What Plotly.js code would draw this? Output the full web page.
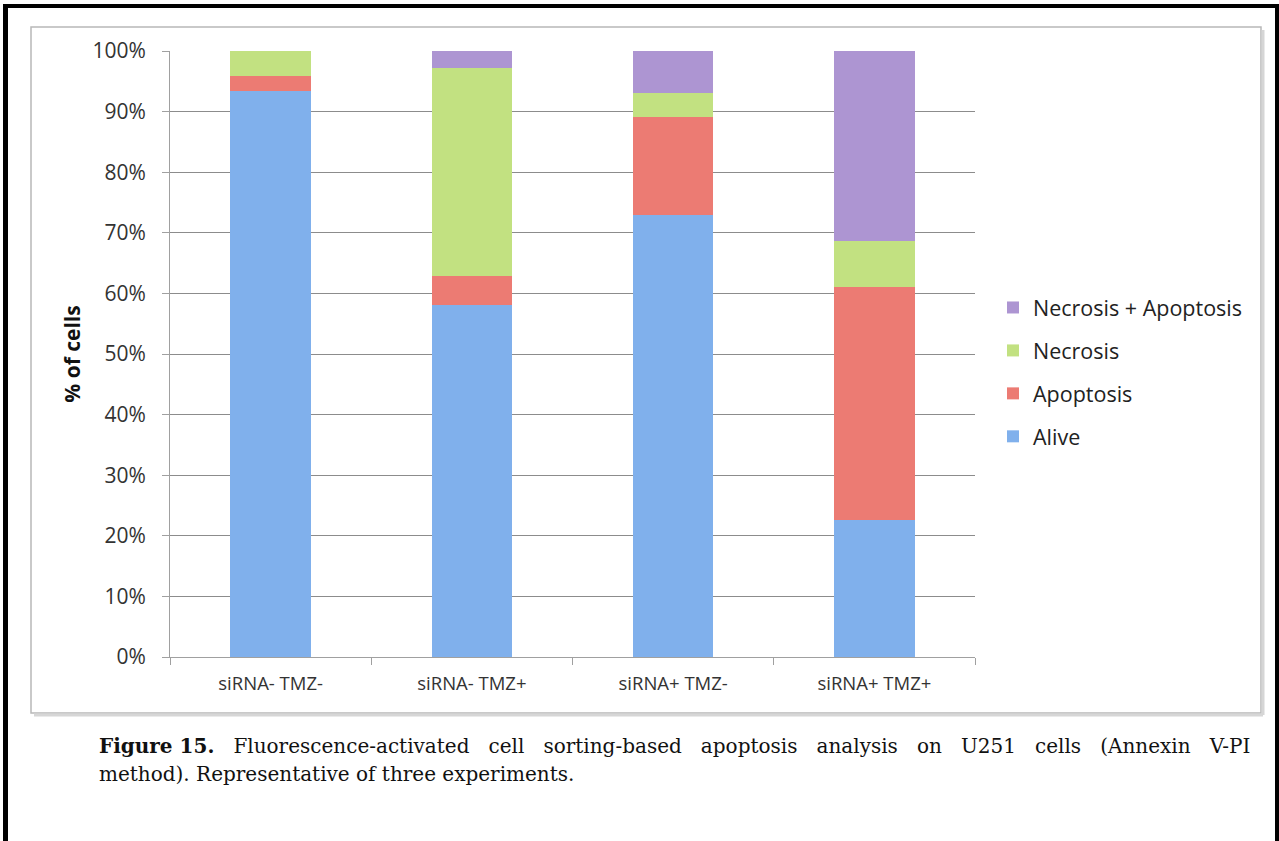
<!DOCTYPE html>
<html>
<head>
<meta charset="utf-8">
<script src="https://cdn.plot.ly/plotly-3.0.1.min.js"></script>
<style>html,body{margin:0;padding:0;background:#fff;}#chart{width:1279px;height:841px;}</style>
</head>
<body>
<div id="chart"></div>
<script>
// ---- data (percent of cells) ----
const categories = ["siRNA- TMZ-", "siRNA- TMZ+", "siRNA+ TMZ-", "siRNA+ TMZ+"];
const alive = [93.4, 58.1, 73.0, 22.6];
const apoptosis = [2.4, 4.8, 16.1, 38.5];
const necrosis = [4.2, 34.3, 3.9, 7.5];
const necrosisApoptosis = [0.0, 2.8, 7.0, 31.4];
const seriesNames = ["Alive", "Apoptosis", "Necrosis", "Necrosis + Apoptosis"];
const yTickVals = [0, 10, 20, 30, 40, 50, 60, 70, 80, 90, 100];
const yTickText = ["0%", "10%", "20%", "30%", "40%", "50%", "60%", "70%", "80%", "90%", "100%"];
const captionBold = "Figure 15.";
const captionWords1 = ["Fluorescence-activated", "cell", "sorting-based", "apoptosis", "analysis", "on", "U251", "cells", "(Annexin", "V-PI"];
const captionLine2 = "method). Representative of three experiments.";

// ---- geometry helpers ----
const W = 1279, H = 841;
const M = {l: 170, r: 304, t: 51, b: 184};
const PW = W - M.l - M.r, PH = H - M.t - M.b;
const X = px => (px - M.l) / PW;
const Y = py => (H - M.b - py) / PH;

const colors = ["#80b0ec", "#ec7b73", "#c2e181", "#ad95d2"];
const values = [alive, apoptosis, necrosis, necrosisApoptosis];

const traces = values.map((v, i) => ({
  type: "bar",
  name: seriesNames[i],
  legendgroup: "g" + i,
  legendrank: 100 - i,
  x: categories,
  y: v,
  width: 0.4,
  marker: {color: colors[i], line: {width: 0}},
  hoverinfo: "x+y+name"
}));

const font = "'Open Sans', 'Liberation Sans', sans-serif";
const serif = "'DejaVu Serif', 'Liberation Serif', serif";
// justified first caption line: widen word gaps with non-breaking spaces
const gap = " \u00A0\u00A0";
const captionText1 = "<b>" + captionBold + "</b>" + gap + captionWords1.join(gap);

const layout = {
  width: W, height: H,
  margin: M,
  paper_bgcolor: "#ffffff",
  plot_bgcolor: "#ffffff",
  barmode: "stack",
  showlegend: true,
  font: {family: font, size: 19, color: "#333"},
  xaxis: {
    type: "category",
    tickson: "boundaries",
    ticks: "outside",
    ticklen: 7,
    tickcolor: "#a0a0a0",
    showline: true,
    linecolor: "#a0a0a0",
    linewidth: 1,
    showgrid: false,
    tickfont: {family: font, size: 18.5, color: "#333"},
    ticklabelstandoff: 10,
    fixedrange: true
  },
  yaxis: {
    range: [0, 100],
    tickmode: "array",
    tickvals: yTickVals,
    ticktext: yTickText,
    ticks: "outside",
    ticklen: 7,
    tickcolor: "#a0a0a0",
    showline: true,
    linecolor: "#a0a0a0",
    linewidth: 1,
    gridcolor: "#8c8c8c",
    gridwidth: 1,
    zeroline: false,
    tickfont: {family: font, size: 21, color: "#333"},
    ticklabelstandoff: 12,
    title: {text: "<b>% of cells</b>", font: {family: font, size: 21, color: "#111"}, standoff: 6},
    fixedrange: true
  },
  legend: {
    x: X(993), xanchor: "left",
    y: Y(372), yanchor: "middle",
    traceorder: "grouped",
    tracegroupgap: 12,
    font: {family: font, size: 21.5, color: "#222"},
    bgcolor: "rgba(0,0,0,0)",
    itemclick: false, itemdoubleclick: false
  },
  shapes: [
    {type: "rect", xref: "paper", yref: "paper", x0: X(31), x1: X(1261), y0: Y(713), y1: Y(27),
     line: {color: "#b8b8b8", width: 1.5}, layer: "below"},
    {type: "line", xref: "paper", yref: "paper", x0: X(1263), x1: X(1263), y0: Y(715), y1: Y(30),
     line: {color: "#d6d6d6", width: 3}},
    {type: "line", xref: "paper", yref: "paper", x0: X(34), x1: X(1263), y0: Y(715), y1: Y(715),
     line: {color: "#d6d6d6", width: 3}},
    {type: "line", xref: "paper", yref: "paper", x0: X(5.5), x1: X(5.5), y0: Y(845), y1: Y(4),
     line: {color: "#000", width: 5}},
    {type: "line", xref: "paper", yref: "paper", x0: X(3), x1: X(1279), y0: Y(6), y1: Y(6),
     line: {color: "#000", width: 4}},
    {type: "line", xref: "paper", yref: "paper", x0: X(1277), x1: X(1277), y0: Y(845), y1: Y(4),
     line: {color: "#000", width: 4}}
  ],
  annotations: [
    {xref: "paper", yref: "paper", x: X(97), y: Y(746), xanchor: "left", yanchor: "middle",
     showarrow: false, align: "left",
     text: captionText1,
     font: {family: serif, size: 20, color: "#111"}},
    {xref: "paper", yref: "paper", x: X(97), y: Y(774), xanchor: "left", yanchor: "middle",
     showarrow: false, align: "left",
     text: captionLine2,
     font: {family: serif, size: 20, color: "#111"}}
  ]
};

Plotly.newPlot("chart", traces, layout, {displayModeBar: false, staticPlot: true});
</script>
</body>
</html>
